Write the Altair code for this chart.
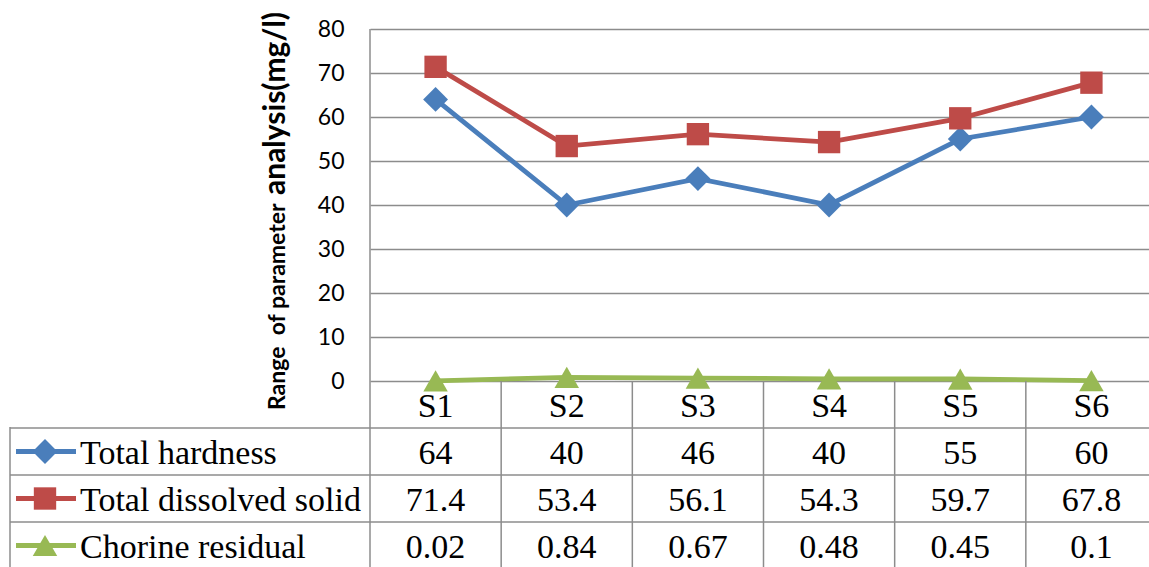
import altair as alt
import pandas as pd

sites = ["S1", "S2", "S3", "S4", "S5", "S6"]
series_names = ["Total hardness", "Total dissolved solid", "Chorine residual"]
total_hardness = [64, 40, 46, 40, 55, 60]
total_dissolved_solid = [71.4, 53.4, 56.1, 54.3, 59.7, 67.8]
chorine_residual = [0.02, 0.84, 0.67, 0.48, 0.45, 0.1]
y_ticks = [0, 10, 20, 30, 40, 50, 60, 70, 80]
colors = ["#4A7EBB", "#BE4B48", "#98B954"]
shapes = ["diamond", "square", "triangle-up"]
marker_sizes = [620, 500, 600]
y_title_parts = ["Range\u00a0 of parameter", "analysis(mg/l)"]
row_order = ["header"] + series_names

values = [total_hardness, total_dissolved_solid, chorine_residual]
recs = []
for name, vals in zip(series_names, values):
    for s, v in zip(sites, vals):
        recs.append({"site": s, "series": name, "value": v, "label": f"{v:g}"})
df = pd.DataFrame(recs)

cells = [{"site": s, "row": "header", "label": s} for s in sites]
cells += [{"site": r["site"], "row": r["series"], "label": r["label"]} for r in recs]
cells_df = pd.DataFrame(cells)
legend_df = pd.DataFrame({"series": series_names, "row": series_names})
col_lines_df = pd.DataFrame({"site": sites[1:]})
row_lines_df = pd.DataFrame({"row": series_names})

W, H = 779, 567
GRID = "#8C8C8C"

xscale = alt.Scale(type="band", domain=sites, range=[0, 787], paddingInner=0, paddingOuter=0)
yscale = alt.Scale(domain=[0, 80], range=[381, 29], nice=False, zero=False)
rowscale = alt.Scale(type="band", domain=row_order, range=[381, 569], paddingInner=0, paddingOuter=0)
cscale = alt.Scale(domain=series_names, range=colors)

# table lines
col_lines = alt.Chart(col_lines_df).mark_rule(color=GRID, strokeWidth=1.5).encode(
    x=alt.X("site:N", scale=xscale, bandPosition=0, axis=None),
    y=alt.value(381), y2=alt.value(567),
)
row_lines = alt.Chart(row_lines_df).mark_rule(color=GRID, strokeWidth=1.5).encode(
    y=alt.Y("row:N", scale=rowscale, bandPosition=0, axis=None),
    x=alt.value(-360), x2=alt.value(W),
)
left_line = alt.Chart(col_lines_df.head(1)).mark_rule(color=GRID, strokeWidth=1.5).encode(
    x=alt.value(0), y=alt.value(29), y2=alt.value(567)
)
table_left = alt.Chart(col_lines_df.head(1)).mark_rule(color=GRID, strokeWidth=1.5).encode(
    x=alt.value(-360), y=alt.value(427), y2=alt.value(567)
)

lines = alt.Chart(df).mark_line(strokeWidth=4.8).encode(
    x=alt.X("site:N", scale=xscale, bandPosition=0.5, axis=None),
    y=alt.Y("value:Q", scale=yscale,
            axis=alt.Axis(values=y_ticks, grid=True, gridColor=GRID, gridWidth=1.3,
                          domain=False, ticks=False, tickSize=0, labelFont="Lato",
                          labelFontSize=23, labelColor="black", labelPadding=26,
                          title=None)),
    color=alt.Color("series:N", scale=cscale, legend=None),
    detail="series:N",
)

point_layers = []
for name, shp, sz in zip(series_names, shapes, marker_sizes):
    point_layers.append(
        alt.Chart(df).transform_filter(alt.datum.series == name)
        .mark_point(filled=True, opacity=1, shape=shp, size=sz).encode(
            x=alt.X("site:N", scale=xscale, bandPosition=0.5, axis=None),
            y=alt.Y("value:Q", scale=yscale, axis=None),
            color=alt.Color("series:N", scale=cscale, legend=None),
        )
    )
    point_layers.append(
        alt.Chart(legend_df).transform_filter(alt.datum.series == name)
        .mark_point(filled=True, opacity=1, shape=shp, size=sz).encode(
            x=alt.value(-325),
            y=alt.Y("row:N", scale=rowscale, axis=None),
            color=alt.Color("series:N", scale=cscale, legend=None),
        )
    )

cell_text = alt.Chart(cells_df).mark_text(font="Liberation Serif", fontSize=34, color="black",
                                          baseline="middle", dy=2).encode(
    x=alt.X("site:N", scale=xscale, bandPosition=0.5, axis=None),
    y=alt.Y("row:N", scale=rowscale, axis=None),
    text="label:N",
)
legend_rule = alt.Chart(legend_df).mark_rule(strokeWidth=5).encode(
    x=alt.value(-354), x2=alt.value(-294),
    y=alt.Y("row:N", scale=rowscale, axis=None),
    color=alt.Color("series:N", scale=cscale, legend=None),
)
legend_text = alt.Chart(legend_df).mark_text(font="Liberation Serif", fontSize=34, color="black",
                                             align="left", baseline="middle", dy=2).encode(
    x=alt.value(-290),
    y=alt.Y("row:N", scale=rowscale, axis=None),
    text="series:N",
)

t1 = alt.Chart(pd.DataFrame({"t": [y_title_parts[0]]})).mark_text(
    angle=270, align="left", baseline="alphabetic", font="Lato", fontWeight="bold",
    fontSize=23, color="black").encode(x=alt.value(-85), y=alt.value(410), text="t:N")
t2 = alt.Chart(pd.DataFrame({"t": [y_title_parts[1]]})).mark_text(
    angle=270, align="left", baseline="alphabetic", font="Lato", fontWeight="bold",
    fontSize=30, color="black").encode(x=alt.value(-85), y=alt.value(195), text="t:N")

chart = alt.layer(
    lines, col_lines, row_lines, left_line, table_left, legend_rule, *point_layers,
    cell_text, legend_text, t1, t2
).resolve_scale(y="independent").properties(
    width=W, height=H,
    autosize=alt.AutoSizeParams(type="none"),
    padding={"left": 370, "top": 0, "right": 0, "bottom": 0},
    background="white",
).configure_view(stroke=None)

chart.save("out.html", embed_options={"renderer": "svg", "actions": False})
